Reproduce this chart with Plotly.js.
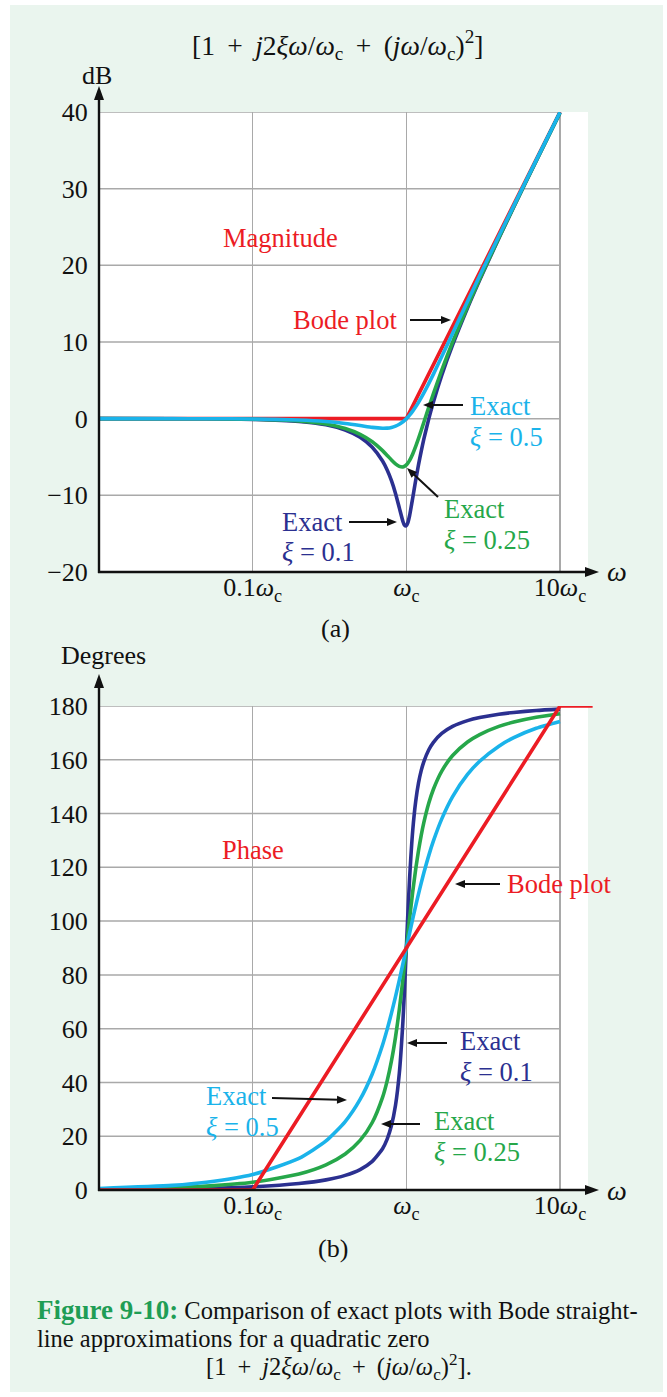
<!DOCTYPE html>
<html>
<head>
<meta charset="utf-8">
<script src="https://cdn.plot.ly/plotly-3.0.1.min.js"></script>
<style>html,body{margin:0;padding:0;background:#fff;}#chart{width:667px;height:1397px;}</style>
</head>
<body>
<div id="chart"></div>
<script>
// ---- data (omega in units of omega_c) ----
const omega = [0.01, 0.03, 0.05, 0.1, 0.2, 0.3, 0.4, 0.5, 0.6, 0.7,
               0.75, 0.8, 0.85, 0.9, 0.95, 0.97, 1.0, 1.02, 1.05, 1.1,
               1.15, 1.2, 1.25, 1.3, 1.4, 1.5, 1.7, 2, 2.5, 3,
               4, 5, 7, 10];
const magXi01  = [0, -0.01, -0.02, -0.09, -0.35, -0.80, -1.48, -2.42, -3.73, -5.53,
                  -6.70, -8.09, -9.75, -11.64, -13.41, -13.86, -13.98, -13.64, -12.63, -10.34,
                  -8.04, -6.00, -4.22, -2.65, 0.00, 2.18, 5.67, 9.62, 14.44, 18.09,
                  23.53, 27.61, 33.63, 39.92];
const magXi025 = [0, -0.01, -0.02, -0.08, -0.31, -0.70, -1.28, -2.04, -3.01, -4.17,
                  -4.79, -5.38, -5.89, -6.22, -6.29, -6.22, -6.02, -5.82, -5.44, -4.60,
                  -3.62, -2.57, -1.51, -0.46, 1.50, 3.27, 6.33, 10.00, 14.64, 18.21,
                  23.60, 27.65, 33.65, 39.92];
const magXi05  = [0, 0, -0.01, -0.04, -0.17, -0.37, -0.63, -0.90, -1.14, -1.25,
                  -1.23, -1.14, -0.97, -0.73, -0.40, -0.25, 0.00, 0.18, 0.47, 0.98,
                  1.54, 2.13, 2.74, 3.36, 4.60, 5.81, 8.10, 11.14, 15.29, 18.63,
                  23.82, 27.79, 33.72, 39.96];
const phXi01  = [0.11, 0.34, 0.57, 1.16, 2.39, 3.77, 5.44, 7.59, 10.62, 15.35,
                 18.93, 23.96, 31.49, 43.45, 62.83, 73.06, 90, 101.20, 116.02, 133.67,
                 144.50, 151.39, 156.04, 159.35, 163.74, 166.50, 169.80, 172.41, 174.56, 175.71,
                 176.95, 177.61, 178.33, 178.84];
const phXi025 = [0.29, 0.86, 1.44, 2.89, 5.95, 9.36, 13.39, 18.43, 25.11, 34.46,
                 40.60, 48.01, 56.86, 67.11, 78.40, 83.05, 90, 94.53, 101.05, 110.90,
                 119.28, 126.25, 131.99, 136.70, 143.90, 149.04, 155.79, 161.57, 166.61, 169.38,
                 172.41, 174.05, 175.83, 177.11];
const phXi05  = [0.57, 1.72, 2.87, 5.77, 11.77, 18.25, 25.46, 33.69, 43.15, 53.92,
                 59.74, 65.77, 71.92, 78.08, 84.14, 86.51, 90, 92.27, 95.58, 100.81,
                 105.66, 110.14, 114.23, 117.96, 124.44, 129.81, 138.03, 146.31, 154.54, 159.44,
                 165.07, 168.23, 171.70, 174.23];
const bodeMagX = [0.01, 1, 10];
const bodeMag  = [0, 0, 40];
const bodePhX  = [0.01, 0.1, 10, 16.3];
const bodePh   = [0, 0, 180, 180];
const xTickVals = [0.1, 1, 10];
const xTickText = ['0.1<i>ω</i><sub>c</sub>', '<i>ω</i><sub>c</sub>', '10<i>ω</i><sub>c</sub>'];
const magTicks = [-20, -10, 0, 10, 20, 30, 40];
const phTicks = [0, 20, 40, 60, 80, 100, 120, 140, 160, 180];

// ---- styling ----
const RED = '#ec1c24', NAVY = '#2b3090', GREEN = '#26a74a', CYAN = '#1ab3ea';
const MINT = '#eaf5ee', GRID = '#a9a9a9', INK = '#111111';
const FONT = 'Liberation Serif';
const W = 667, H = 1397;
const px = x => x / W, py = y => 1 - y / H;
const LW = 3.6;
const X_RANGE = [-2, 1.2145];      // plot frame runs 99px .. 593px
const WHITE_END = 15.2;             // white plot area ends here (~588px)

function tr(x, y, color, xa, ya, spline) {
  return {x: x, y: y, xaxis: xa, yaxis: ya, type: 'scatter', mode: 'lines', hoverinfo: 'skip',
    line: {color: color, width: LW, shape: spline ? 'spline' : 'linear', smoothing: 0.6}};
}
const traces = [
  tr(bodeMagX, bodeMag, RED, 'x', 'y', false),
  tr(omega, magXi01, NAVY, 'x', 'y', true),
  tr(omega, magXi025, GREEN, 'x', 'y', true),
  tr(omega, magXi05, CYAN, 'x', 'y', true),
  tr(omega, phXi01, NAVY, 'x2', 'y2', true),
  tr(omega, phXi025, GREEN, 'x2', 'y2', true),
  tr(omega, phXi05, CYAN, 'x2', 'y2', true),
  tr(bodePhX, bodePh, RED, 'x2', 'y2', false)
];

const shapes = [];
magTicks.slice(1).forEach(t => shapes.push({type: 'line', xref: 'x', yref: 'y', x0: 0.01, x1: 10, y0: t, y1: t, layer: 'below', line: {color: GRID, width: 1.5}}));
phTicks.slice(1).forEach(t => shapes.push({type: 'line', xref: 'x2', yref: 'y2', x0: 0.01, x1: 10, y0: t, y1: t, layer: 'below', line: {color: GRID, width: 1.5}}));
// mint strip at the right end of each plot frame (outside the white area)
[['x', 'y domain'], ['x2', 'y2 domain']].forEach(r => shapes.push({type: 'rect', xref: r[0], yref: r[1],
  x0: WHITE_END, x1: 20, y0: -0.02, y1: 1.02, fillcolor: MINT, line: {width: 0}, layer: 'below'}));
// white page border
[[0, 0, W, 5], [0, 0, 10, H], [663, 0, W, H], [0, 1392, W, H]].forEach(r => shapes.push({
  type: 'rect', xref: 'paper', yref: 'paper', x0: px(r[0]), x1: px(r[2]), y0: py(r[3]), y1: py(r[1]),
  fillcolor: '#ffffff', line: {width: 0}, layer: 'above'}));

// arrows (line + filled triangular head), positions in page pixels
function arrow(tx, ty, hx, hy, w, L, hw) {
  w = w || 2; L = L || 10; hw = hw || 4;
  const dx = hx - tx, dy = hy - ty, len = Math.hypot(dx, dy);
  const ux = dx / len, uy = dy / len, nx = -uy, ny = ux;
  const bx = hx - ux * L, by = hy - uy * L;
  shapes.push({type: 'line', xref: 'paper', yref: 'paper', x0: px(tx), y0: py(ty),
    x1: px(bx + ux * 2), y1: py(by + uy * 2), line: {color: INK, width: w}, layer: 'above'});
  shapes.push({type: 'path', xref: 'paper', yref: 'paper', layer: 'above', fillcolor: INK, line: {width: 0},
    path: 'M' + px(hx) + ',' + py(hy) + ' L' + px(bx + nx * hw) + ',' + py(by + ny * hw) +
          ' L' + px(bx - nx * hw) + ',' + py(by - ny * hw) + ' Z'});
}

const ann = [];
function label(text, x, y, color, xanchor, size) {
  ann.push({xref: 'paper', yref: 'paper', x: px(x), y: py(y), text: text, showarrow: false,
    xanchor: xanchor || 'center', yanchor: 'middle', align: 'left',
    font: {family: FONT, size: size || 26.5, color: color || INK}});
}
const TS = '\u2009';
const FORMULA = '[1 ' + TS + '+' + TS + ' <i>j</i>2<i>ξω</i>/<i>ω</i><sub>c</sub> ' + TS + '+' + TS +
                ' (<i>jω</i>/<i>ω</i><sub>c</sub>)<sup>2</sup>]';
// axes with arrows
arrow(99, 573, 99, 86, 2.4, 14, 5);
arrow(98, 572, 599, 572, 2.4, 14, 5);
arrow(99, 1191, 99, 674, 2.4, 14, 5);
arrow(98, 1190, 599, 1190, 2.4, 14, 5);
label('<i>ω</i>', 617, 572, INK, 'center', 28);
label('<i>ω</i>', 617, 1190, INK, 'center', 28);
label('dB', 97, 75, INK, 'center', 26);
label('Degrees', 103, 655, INK, 'center', 26);
label('(a)', 335, 628, INK, 'center', 26);
label('(b)', 333, 1248, INK, 'center', 26);
label(FORMULA, 337, 45, INK, 'center', 27.5);

// magnitude labels
label('Magnitude', 280, 238, RED);
label('Bode plot', 345, 320, RED);
arrow(410, 320, 451, 320);
label('Exact', 468, 406, CYAN, 'left');
label('<i>ξ</i> = 0.5', 468, 437, CYAN, 'left');
arrow(463, 405, 423, 405);
label('Exact', 442, 509, GREEN, 'left');
label('<i>ξ</i> = 0.25', 442, 540, GREEN, 'left');
arrow(438, 497, 407, 468);
label('Exact', 280, 522, NAVY, 'left');
label('<i>ξ</i> = 0.1', 280, 552, NAVY, 'left');
arrow(349, 522, 397, 522);

// phase labels
label('Phase', 253, 850, RED);
label('Bode plot', 505, 884, RED, 'left');
arrow(500, 884, 455, 884);
label('Exact', 458, 1041, NAVY, 'left');
label('<i>ξ</i> = 0.1', 458, 1072, NAVY, 'left');
arrow(447, 1043, 407, 1043);
label('Exact', 204, 1096, CYAN, 'left');
label('<i>ξ</i> = 0.5', 204, 1127, CYAN, 'left');
arrow(272, 1098, 347, 1100);
label('Exact', 432, 1121, GREEN, 'left');
label('<i>ξ</i> = 0.25', 432, 1152, GREEN, 'left');
arrow(420, 1124, 381, 1124);

// caption
label('<b><span style="color:#1f9d55;font-size:27px">Figure 9-10:</span></b> Comparison of exact plots with Bode straight-', 35, 1310, INK, 'left', 24.5);
label('line approximations for a quadratic zero', 35, 1338, INK, 'left', 24.5);
label(FORMULA + '.', 339, 1367, INK, 'center', 24.5);

function xax(anchor) {
  return {type: 'log', domain: [px(99), px(593)], range: X_RANGE, anchor: anchor,
    tickmode: 'array', tickvals: xTickVals, ticktext: xTickText, showgrid: true, gridcolor: GRID, gridwidth: 1.5,
    zeroline: false, showline: false, ticks: 'outside', ticklen: 0, tickcolor: 'rgba(0,0,0,0)',
    ticklabelstandoff: -8,
    tickfont: {family: FONT, size: 26, color: INK}, fixedrange: true};
}
function yax(anchor, dom, range, ticks) {
  return {domain: dom, range: range, anchor: anchor, tickmode: 'array', tickvals: ticks,
    showgrid: false, zeroline: false, showline: false, ticks: 'outside', ticklen: 5, tickcolor: 'rgba(0,0,0,0)',
    tickfont: {family: FONT, size: 26, color: INK}, fixedrange: true};
}
const layout = {
  width: W, height: H, margin: {l: 0, r: 0, t: 0, b: 0},
  paper_bgcolor: MINT, plot_bgcolor: '#ffffff', showlegend: false,
  font: {family: FONT, size: 26, color: INK},
  xaxis: xax('y'), yaxis: yax('x', [py(572), py(112)], [-20, 40], magTicks),
  xaxis2: xax('y2'), yaxis2: yax('x2', [py(1190), py(706)], [0, 180], phTicks),
  shapes: shapes, annotations: ann
};
Plotly.newPlot('chart', traces, layout, {staticPlot: true, displayModeBar: false});
</script>
</body>
</html>
